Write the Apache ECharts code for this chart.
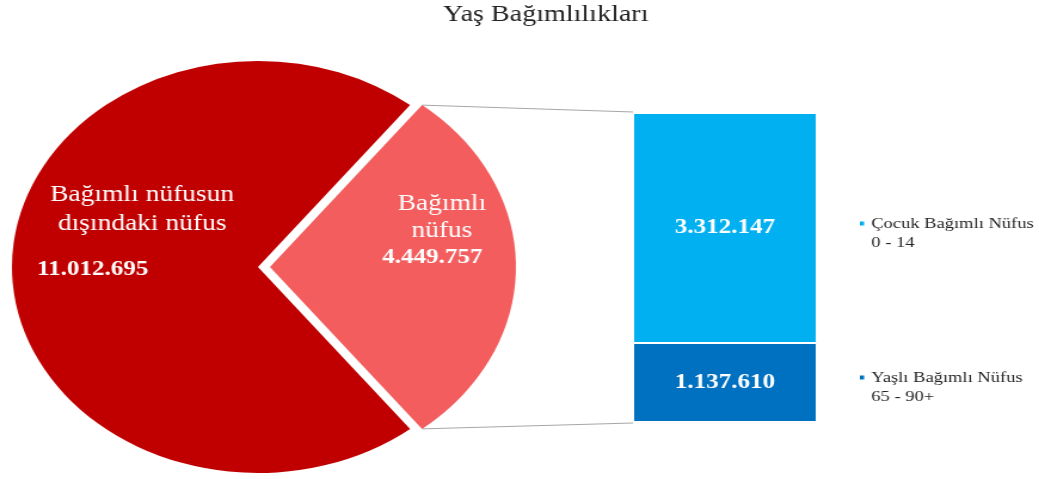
<!DOCTYPE html>
<html>
<head>
<meta charset="utf-8">
<script src="https://cdn.jsdelivr.net/npm/echarts@6/dist/echarts.min.js"></script>
<style>
  html, body { margin: 0; padding: 0; background: #fff; overflow: hidden; }
  /* the source picture is a round pie stretched sideways, so stretch the whole chart the same way */
  #main { width: 870px; height: 479px; transform: scaleX(1.1943); transform-origin: 0 0; }
</style>
</head>
<body>
<div id="main"></div>
<script>
// pie: dependent population vs the rest
var pieNames = ['Bağımlı nüfus', 'Bağımlı nüfusun dışındaki nüfus'];
var pieLabels = ['Bağımlı\nnüfus', 'Bağımlı nüfusun\ndışındaki nüfus'];
var pieValues = [4449757, 11012695];

// bar: split of the dependent population (bottom to top)
var barNames = ['Yaşlı Bağımlı Nüfus', 'Çocuk Bağımlı Nüfus'];
var barAges = ['65 - 90+', '0 - 14'];
var barValues = [1137610, 3312147];

var serif = "'Liberation Serif', 'Times New Roman', serif";

function fmt(v) {
    return String(v).replace(/\B(?=(\d{3})+(?!\d))/g, '.');
}

var pieTotal = pieValues[0] + pieValues[1];
var barTotal = barValues[0] + barValues[1];
var half = 180 * pieValues[0] / pieTotal; // small slice centred on 3 o'clock

var cx = 216, cy = 267, R = 206, explode = 10;
var gridLeft = 530, gridTop = 113, gridW = 154, gridH = 309;

// connector lines from the exploded slice edges to the bar
var a = half * Math.PI / 180;
var ex = cx + explode + R * Math.cos(a);
var eyTop = cy - R * Math.sin(a);
var eyBot = cy + R * Math.sin(a);

var chart = echarts.init(document.getElementById('main'));

var colorsPie = ['#F35D5D', '#C00000'];
var colorsBar = ['#0070C0', '#00B0F0'];

var option = {
    animation: false,
    title: {
        text: 'Yaş Bağımlılıkları',
        left: 452,
        top: -2,
        textAlign: 'center',
        textStyle: { fontFamily: serif, fontSize: 23.5, fontWeight: 'normal', color: '#222' }
    },
    legend: [1, 0].map(function (i, k) {
        return {
            data: [barNames[i]],
            left: 718,
            top: k === 0 ? 195 : 349,
            orient: 'vertical',
            padding: 0,
            icon: 'rect',
            itemWidth: 5.5,
            itemHeight: 6,
            selectedMode: false,
            // empty first line keeps the series name level with the marker
            formatter: function (name) {
                return '\n' + name + '\n' + barAges[barNames.indexOf(name)];
            },
            textStyle: {
                fontFamily: serif, fontSize: 15.5, color: '#262626', lineHeight: 19
            }
        };
    }),
    grid: { left: gridLeft, top: gridTop, width: gridW, height: gridH },
    xAxis: { type: 'category', data: ['Bağımlı nüfus'], show: false },
    yAxis: { type: 'value', min: 0, max: barTotal, show: false },
    graphic: [
        { type: 'line', shape: { x1: ex, y1: eyTop, x2: gridLeft, y2: gridTop - 1 },
          style: { stroke: '#A6A6A6', lineWidth: 1 }, silent: true },
        { type: 'line', shape: { x1: ex, y1: eyBot, x2: gridLeft, y2: gridTop + gridH + 1 },
          style: { stroke: '#A6A6A6', lineWidth: 1 }, silent: true }
    ],
    series: [
        {
            type: 'pie',
            center: [cx, cy],
            radius: R,
            startAngle: half,
            clockwise: true,
            selectedMode: 'single',
            selectedOffset: explode,
            emphasis: { disabled: true },
            itemStyle: { borderWidth: 0 },
            label: {
                show: true,
                position: 'inside',
                color: '#fff',
                fontFamily: serif,
                formatter: function (p) {
                    return '{t' + p.dataIndex + '|' + pieLabels[p.dataIndex] + '}\n{v' + p.dataIndex + '|' + fmt(p.value) + '}';
                },
                rich: {
                    t0: { fontFamily: serif, fontSize: 23, color: '#fff', lineHeight: 27, align: 'center' },
                    v0: { fontFamily: serif, fontSize: 21, fontWeight: 'bold', color: '#fff', lineHeight: 26, align: 'center', padding: [0, 16, 0, 0] },
                    t1: { fontFamily: serif, fontSize: 23, color: '#fff', lineHeight: 29, align: 'center', padding: [0, 0, 0, 11] },
                    v1: { fontFamily: serif, fontSize: 21, fontWeight: 'bold', color: '#fff', lineHeight: 63, align: 'left' }
                }
            },
            labelLine: { show: false },
            labelLayout: function (p) {
                if (p.dataIndex === 1) {
                    return { x: 113.5, y: 241, align: 'center', verticalAlign: 'middle' };
                }
            },
            data: pieValues.map(function (v, i) {
                var d = { name: pieNames[i], value: v, selected: i === 0, itemStyle: { color: colorsPie[i] } };
                if (i === 0) {
                    // move the exploded slice label up and right, as in the source
                    d.label = { padding: [0, 0, 73, 76] };
                }
                return d;
            })
        }
    ].concat(barValues.map(function (v, i) {
        return {
            type: 'bar',
            name: barNames[i],
            stack: 'dep',
            barWidth: '100%',
            data: [v],
            itemStyle: { color: colorsBar[i], borderColor: '#fff', borderWidth: 1 },
            label: {
                show: true,
                position: 'inside',
                color: '#fff',
                fontFamily: serif,
                fontSize: 21,
                fontWeight: 'bold',
                formatter: function (p) { return fmt(p.value); }
            },
            emphasis: { disabled: true }
        };
    }))
};

chart.setOption(option);
</script>
</body>
</html>
